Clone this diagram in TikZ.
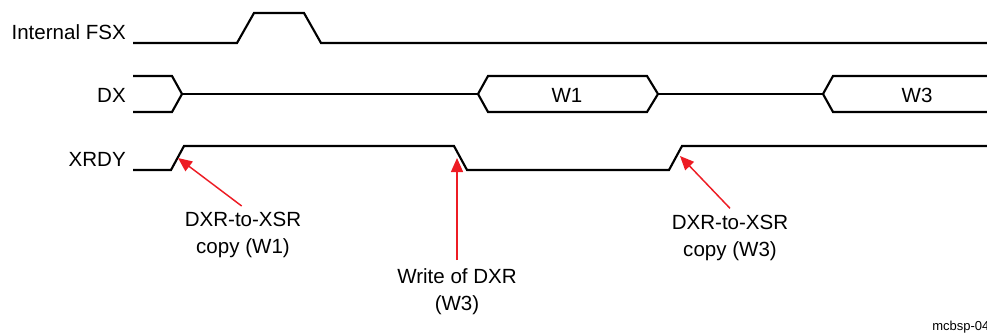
\documentclass[tikz,border=0pt]{standalone}
\usepackage{fontspec}
\setmainfont{Liberation Sans}
\usetikzlibrary{arrows.meta}
\definecolor{tired}{RGB}{237,28,36}
\begin{document}
\begin{tikzpicture}[x=0.75pt,y=-0.75pt,
  sig/.style={line width=1.6pt, draw=black, line join=miter},
  lbl/.style={font=\fontsize{15.4}{18}\selectfont, inner sep=0pt},
  ann/.style={font=\fontsize{15.4}{20.25}\selectfont, align=center, inner sep=0pt, anchor=north},
  redarrow/.style={draw=tired, line width=1.1pt, -{Triangle[length=10.5pt,width=9pt]}}]
\useasboundingbox (0,0) rectangle (987,335);
\clip (0,0) rectangle (987,335);

% signal labels
\node[lbl, anchor=east] (lfsx) at (126,32.5) {Internal FSX};
\node[lbl, anchor=east] (ldx) at (126,95) {DX};
\node[lbl, anchor=east] (lxrdy) at (126,159) {XRDY};

% Internal FSX
\draw[sig] (133,43) -- (237,43) -- (254,13) -- (304,13) -- (321,43) -- (995,43);

% DX
\draw[sig] (133,76) -- (172,76) -- (182,94) -- (172,112) -- (133,112);
\draw[sig] (182,94) -- (478,94);
\draw[sig] (478,94) -- (488,76) -- (647,76) -- (658,94) -- (647,112) -- (488,112) -- cycle;
\draw[sig] (658,94) -- (823,94);
\draw[sig] (995,76) -- (833,76) -- (823,94) -- (833,112) -- (995,112);
\node[lbl] (w1) at (567,95) {W1};
\node[lbl] (w3) at (917,95) {W3};

% XRDY
\draw[sig] (133,170) -- (171,170) -- (184,146) -- (454,146) -- (467,170) -- (669,170) -- (682,146) -- (995,146);

% annotations
\node[ann] (a1) at (243,212) {DXR-to-XSR\\copy (W1)};
\node[ann] (a2) at (457,268) {Write of DXR\\(W3)};
\node[ann] (a3) at (730,215) {DXR-to-XSR\\copy (W3)};

\coordinate (t1) at (178,158);
\coordinate (t2) at (457,158);
\coordinate (t3) at (680,156);

\draw[redarrow] ([xshift=-1pt,yshift=4.5pt]a1.north) -- (t1);
\draw[redarrow] ([yshift=6pt]a2.north) -- (t2);
\draw[redarrow] ([yshift=5pt]a3.north) -- (t3);

\node[font=\fontsize{9.75}{12}\selectfont, inner sep=0pt, anchor=west] (tag) at (932,327) {mcbsp-04};
\end{tikzpicture}
\end{document}
